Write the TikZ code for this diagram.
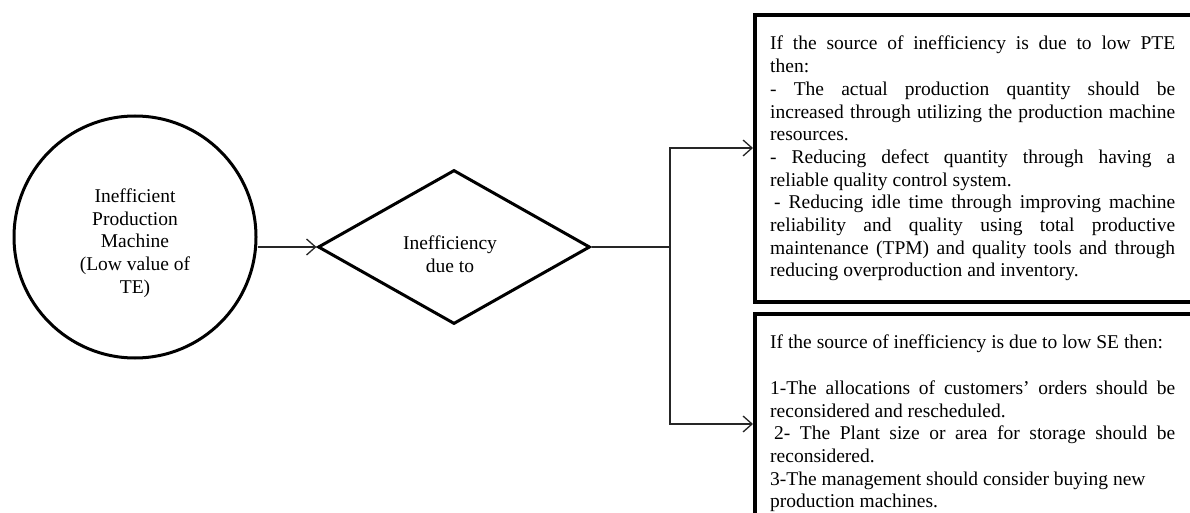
\documentclass[tikz,border=0pt]{standalone}
\usepackage{fontspec}
\setmainfont{Liberation Serif}
\usetikzlibrary{shapes.geometric,arrows.meta}
\begin{document}
\begin{tikzpicture}[x=1pt,y=-1pt,
  conn/.style={line width=1.3pt, draw=black!85},
  arr/.style={conn,-{Straight Barb[length=9pt,width=16pt,line width=1.3pt]}},
  bigfont/.style={font=\fontsize{19.5}{22.7}\selectfont},
  heavy/.style={draw=black, line width=3pt},
  boxframe/.style={draw=black, line width=4pt, minimum width=439pt, anchor=north west, inner sep=0pt},
  boxtext/.style={anchor=north west, text width=405pt, align=justify, inner sep=0pt, bigfont},
]
\useasboundingbox (0,0) rectangle (1190,513);

\node[circle, heavy, minimum size=242pt, inner sep=0pt] (mach) at (135,237) {};
\node[align=center, bigfont, inner sep=0pt] (machtext) at (135,243)
  {Inefficient\\Production\\Machine\\(Low value of\\TE)};

\node[diamond, heavy, minimum width=272pt, minimum height=154pt, inner sep=0pt] (dia) at (454,247) {};
\node[align=center, bigfont, inner sep=0pt] (diatext) at (450,254) {Inefficiency\\due to};

\node[boxframe, minimum height=287pt] (box1) at (753,13) {};
\node[boxframe, minimum height=240pt] (box2) at (753,312) {};

\node[boxtext] (t1) at ([xshift=17pt,yshift=-23pt]box1.north west)
  {If the source of inefficiency is due to low PTE\linebreak then:\\
   - The actual production quantity should be\linebreak increased through utilizing the production machine\linebreak resources.\\
   - Reducing defect quantity through having a\linebreak reliable quality control system.\\
   \hspace*{4pt}- Reducing idle time through improving machine\linebreak reliability and quality using total productive\linebreak maintenance (TPM) and quality tools and through\linebreak reducing overproduction and inventory.};

\node[boxtext] (t2) at ([xshift=17pt,yshift=-23pt]box2.north west)
  {If the source of inefficiency is due to low SE then:\\
   \mbox{}\\
   1-The allocations of customers' orders should be\linebreak reconsidered and rescheduled.\\
   \hspace*{4pt}2- The Plant size or area for storage should be\linebreak reconsidered.\\
   3-The management should consider buying new\\
   production machines.};

\coordinate (br) at (670,247);
\coordinate (a1) at (753,148);
\coordinate (a2) at (753,424);

\draw[arr] (mach.east |- dia.west) -- (dia.west);
\draw[conn] (dia.east) -- (br);
\draw[arr] (br) |- (a1);
\draw[arr] (br) |- (a2);
\end{tikzpicture}
\end{document}
